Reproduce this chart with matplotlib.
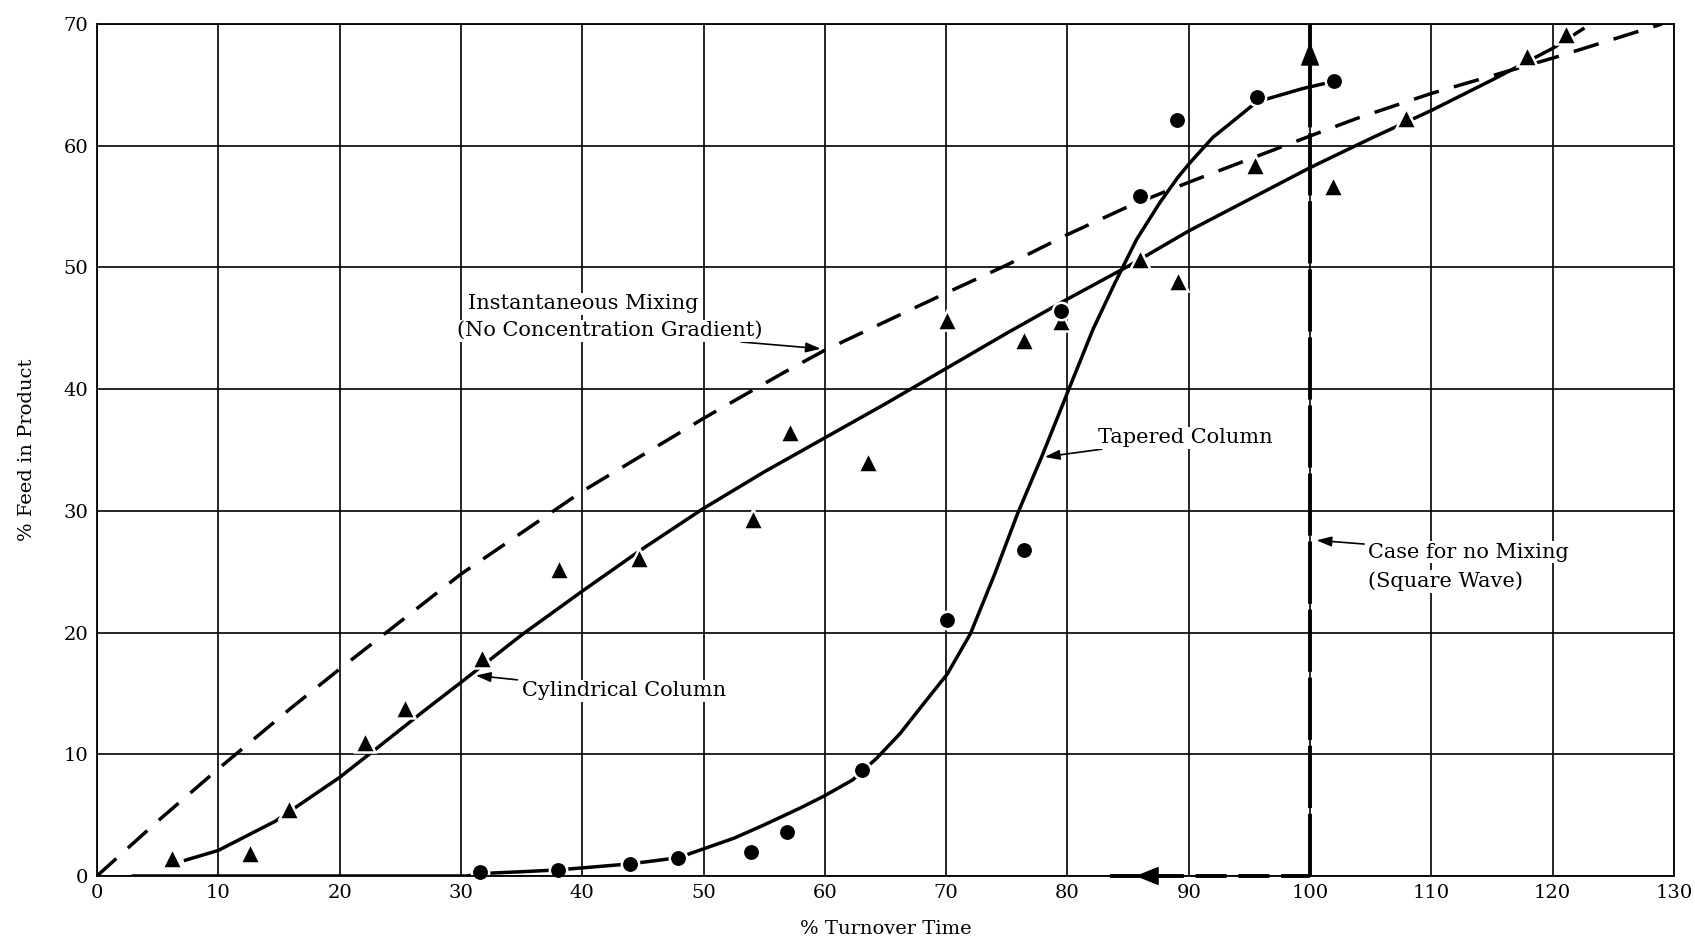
import matplotlib
matplotlib.use('Agg')
import matplotlib.pyplot as plt

# data
tri_x = [6.2, 12.6, 15.8, 22.1, 25.4, 31.7, 38.1, 44.7, 54.1, 57.1, 63.6, 70.1,
         76.4, 79.5, 86.0, 89.1, 95.5, 101.9, 107.9, 117.9, 121.1]
tri_y = [1.5, 1.9, 5.5, 11.0, 13.8, 17.9, 25.2, 26.1, 29.3, 36.5, 34.0, 45.7,
         44.0, 45.6, 50.7, 48.9, 58.4, 56.7, 62.3, 67.4, 69.2]

dot_x = [31.6, 38.0, 43.9, 47.9, 53.9, 56.9, 63.1, 70.1, 76.4, 79.5, 86.0, 89.0, 95.6, 102.0]
dot_y = [0.3, 0.5, 0.95, 1.5, 2.0, 3.6, 8.7, 21.0, 26.8, 46.4, 55.9, 62.1, 64.0, 65.3]

inst_x = [0, 5, 10, 16, 20, 30, 40, 50, 56.5, 60, 70, 75, 80, 85, 90, 100, 104, 110, 120, 129]
inst_y = [0, 4.5, 8.8, 13.8, 17.0, 24.8, 31.6, 37.6, 41.3, 43.2, 47.9, 50.2, 52.7, 55.0,
          57.0, 60.8, 62.3, 64.3, 67.2, 70.0]

cyl_x = [7.3, 10, 14.7, 20, 23.2, 27, 30, 35, 40, 45, 50, 55, 60, 65, 70, 75, 80, 85,
         90, 95, 100, 105, 110, 115, 120, 122.5]
cyl_y = [1.3, 2.1, 4.5, 8.1, 10.6, 13.6, 15.9, 19.8, 23.4, 26.9, 30.2, 33.2, 36.0,
         38.8, 41.7, 44.6, 47.4, 50.1, 53.0, 55.6, 58.2, 60.6, 62.9, 65.4, 68.0, 69.6]

tap_x = [3, 30.5, 31.6, 35, 38, 41, 44, 47.9, 49.2, 52.5, 55, 58, 60, 62.3, 64.3,
         66.2, 68.1, 70.1, 72, 74, 75.9, 77.9, 80.2, 82.1, 83.9, 85.7, 87.6, 89.1,
         90.1, 92, 93.5, 95.6, 99.4, 102.0]
tap_y = [0, 0, 0.2, 0.35, 0.5, 0.75, 1.0, 1.5, 1.95, 3.1, 4.2, 5.6, 6.6, 7.9, 9.7,
         11.7, 14.1, 16.6, 19.9, 24.8, 29.8, 34.5, 40.2, 44.9, 48.7, 52.3, 55.3, 57.4,
         58.6, 60.7, 61.9, 63.6, 64.7, 65.3]

sq_x = [83.5, 100, 100]
sq_y = [0, 0, 70]

xticks = list(range(0, 131, 10))
yticks = list(range(0, 71, 10))

plt.rcParams['font.family'] = ['DejaVu Serif']

fig = plt.figure(figsize=(16.95, 9.39), dpi=100)
ax = fig.add_axes([0.0572, 0.0671, 0.9304, 0.9073])

ax.set_xlim(0, 130)
ax.set_ylim(0, 70)
ax.set_xticks(xticks)
ax.set_yticks(yticks)
ax.tick_params(length=0, labelsize=14, pad=6)
ax.grid(True, color='black', linewidth=1.2)
ax.set_axisbelow(True)
for s in ax.spines.values():
    s.set_linewidth(1.3)

# curves
l1, = ax.plot(inst_x, inst_y, color='black', lw=2.5, solid_capstyle='butt')
l1.set_dashes([7.5, 4.5])
ax.plot(cyl_x, cyl_y, color='black', lw=2.5)
ax.plot(tap_x, tap_y, color='black', lw=2.5)

# square wave (no mixing)
ax.plot(sq_x[:2], sq_y[:2], color='black', lw=2.8, dashes=[8, 3], clip_on=False)
ax.plot(sq_x[1:], sq_y[1:], color='black', lw=2.8, dashes=[16, 1.5], clip_on=False)
head = dict(arrowstyle='-|>,head_length=0.75,head_width=0.3', color='black',
            lw=1, mutation_scale=20, shrinkA=0, shrinkB=0)
ax.annotate('', xy=(85.6, 0), xytext=(88.5, 0), arrowprops=head)
ax.annotate('', xy=(100, 68.5), xytext=(100, 65.0), arrowprops=head)

# data points
ax.plot(tri_x, tri_y, '^', color='black', ms=14.5, mec='white', mew=1.8, clip_on=False)
ax.plot(dot_x, dot_y, 'o', color='black', ms=12.5, mec='white', mew=1.8, clip_on=False)

# labels on curves
bbox = dict(facecolor='white', edgecolor='none', pad=1)
arr = dict(arrowstyle='-|>,head_length=0.6,head_width=0.2', color='black', lw=1.2)
fs = 15
ax.text(30.6, 47.0, 'Instantaneous Mixing', fontsize=fs, va='center', bbox=bbox)
ax.annotate('(No Concentration Gradient)', xy=(59.9, 43.3), xytext=(29.7, 44.8),
            fontsize=fs, va='center', bbox=bbox, arrowprops=arr)
ax.annotate('Tapered Column', xy=(77.9, 34.4), xytext=(82.5, 36.0),
            fontsize=fs, va='center', bbox=bbox, arrowprops=arr)
ax.annotate('Cylindrical Column', xy=(31.0, 16.5), xytext=(35.0, 15.2),
            fontsize=fs, va='center', bbox=bbox, arrowprops=arr)
ax.annotate('Case for no Mixing', xy=(100.3, 27.6), xytext=(104.8, 26.6),
            fontsize=fs, va='center', bbox=bbox, arrowprops=arr)
ax.text(104.8, 24.2, '(Square Wave)', fontsize=fs, va='center', bbox=bbox)

ax.set_xlabel('% Turnover Time', fontsize=14, labelpad=13)
ax.set_ylabel('% Feed in Product', fontsize=14, labelpad=20)

plt.savefig('out.png', dpi=100)
plt.close('all')
